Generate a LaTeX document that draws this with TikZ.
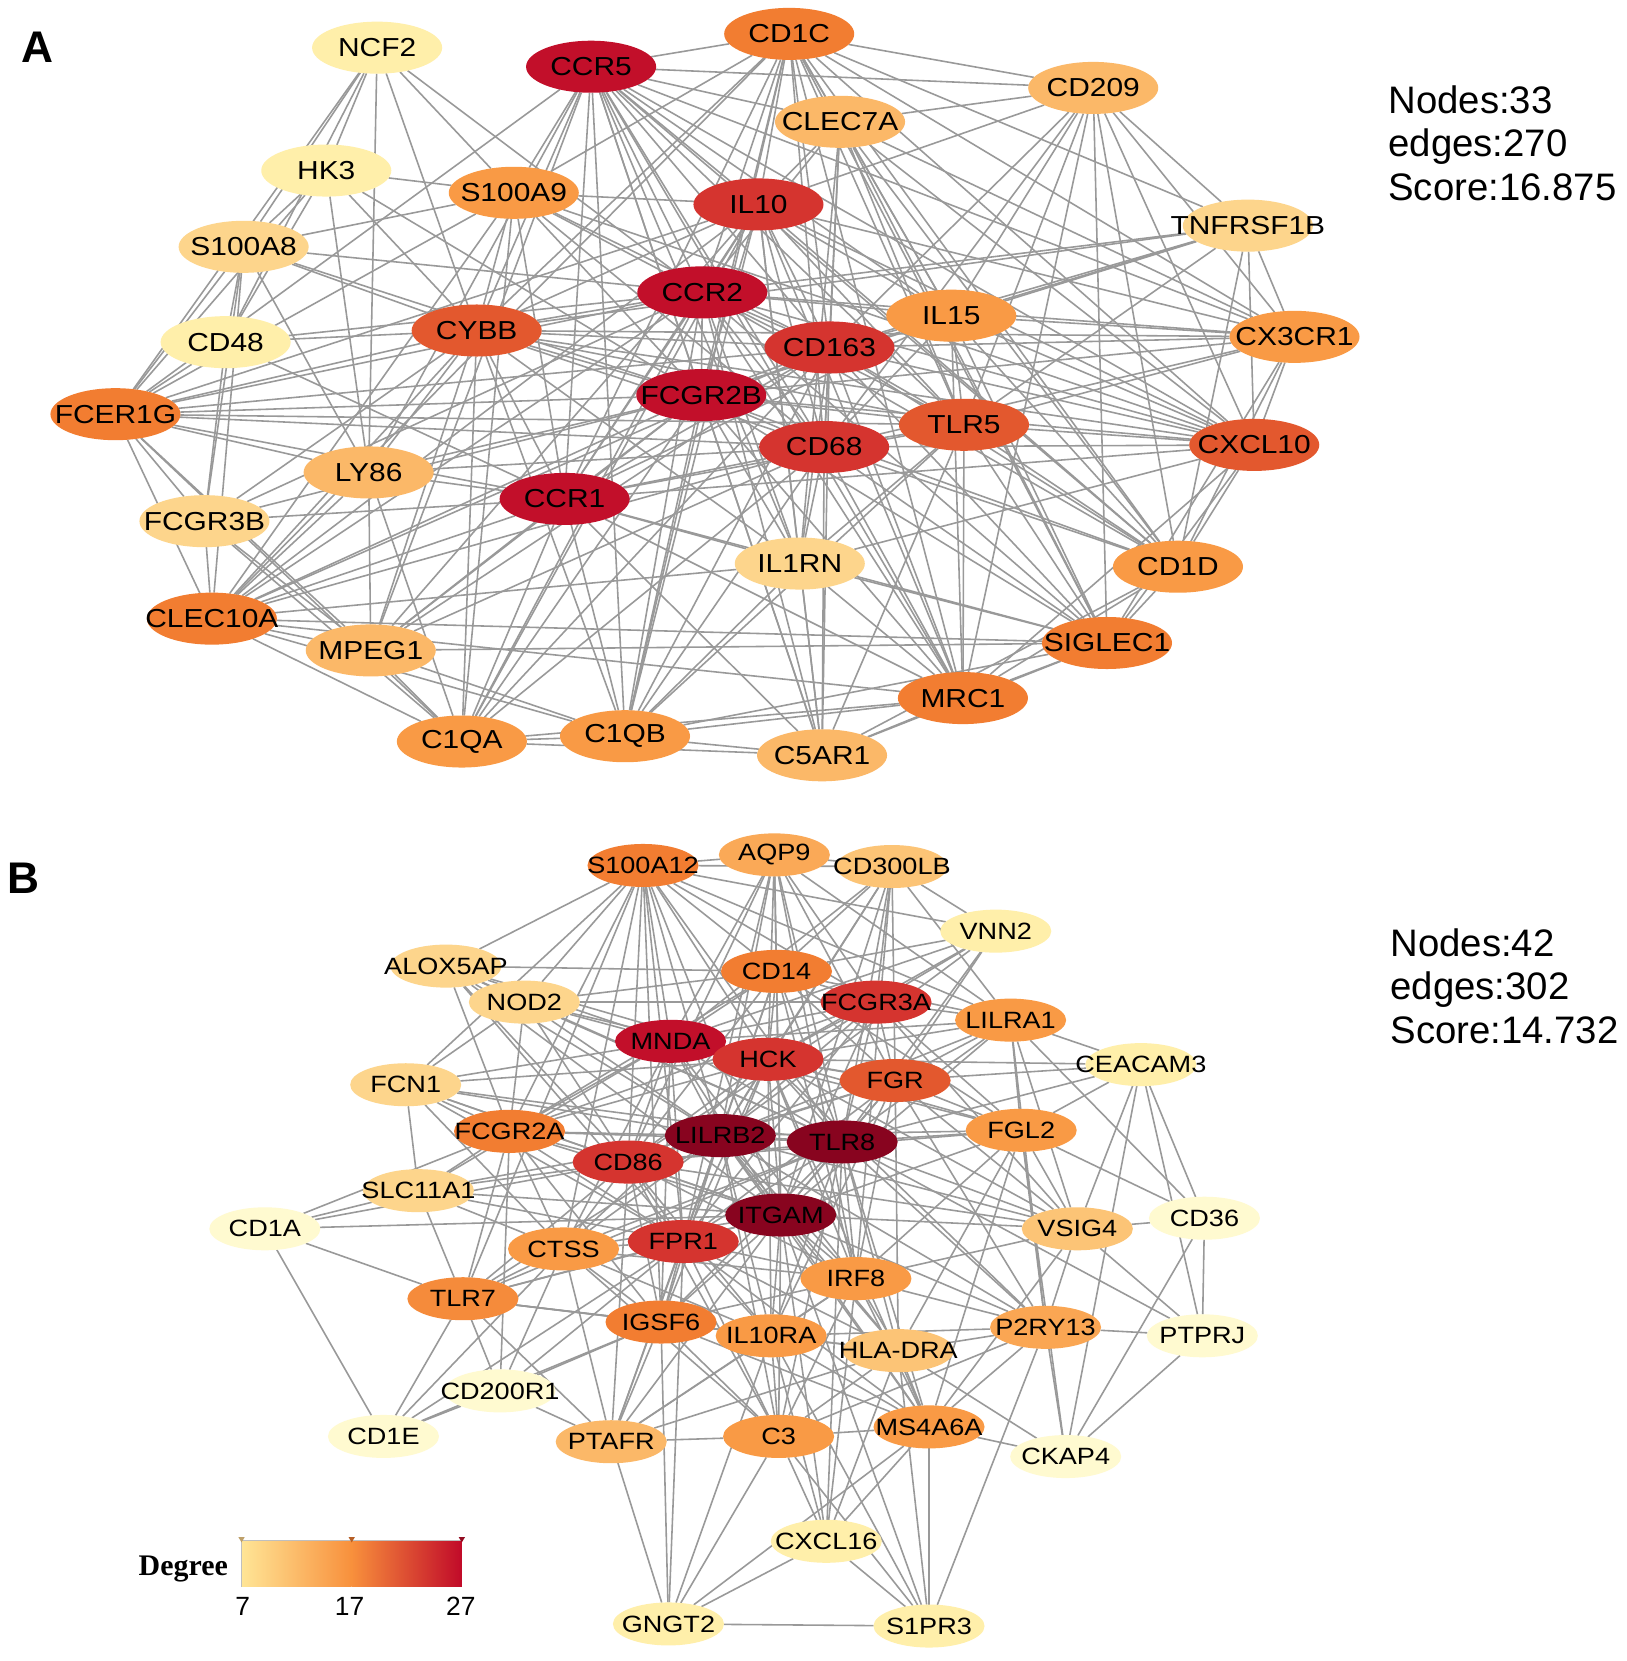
\documentclass[tikz,border=0pt]{standalone}
\usepackage{fontspec}
\setmainfont{Liberation Sans}
\newfontfamily\genefont[FakeStretch=1.15]{Liberation Sans}
\newfontfamily\legendfont{Liberation Serif}
\usetikzlibrary{shapes.geometric,backgrounds}

% degree scale, light to dark
\definecolor{dg1}{HTML}{FFFAD0}
\definecolor{dg2}{HTML}{FFEFAA}
\definecolor{dg3}{HTML}{FDD58C}
\definecolor{dg4}{HTML}{FBB868}
\definecolor{dg5}{HTML}{F99A45}
\definecolor{dg6}{HTML}{F27D31}
\definecolor{dg7}{HTML}{E3582E}
\definecolor{dg8}{HTML}{D5342F}
\definecolor{dg9}{HTML}{C20F2A}
\definecolor{dg10}{HTML}{88041F}
\definecolor{barlo}{HTML}{FFE596}
\definecolor{barmid}{HTML}{F8903C}
\definecolor{barhi}{HTML}{C10A29}
\definecolor{linkgray}{HTML}{999999}

\tikzset{
  geneA/.style={ellipse, draw=none, inner sep=0pt, outer sep=0pt,
    minimum width=1.30cm, minimum height=0.52cm},
  geneB/.style={ellipse, draw=none, inner sep=0pt, outer sep=0pt,
    minimum width=1.11cm, minimum height=0.43cm},
  labA/.style={inner sep=0pt, font=\genefont\fontsize{7.4}{8}\selectfont},
  labB/.style={inner sep=0pt, font=\genefont\fontsize{6.7}{7.5}\selectfont},
  ppi/.style={draw=linkgray, line width=0.45pt},
  stats/.style={align=left, inner sep=0pt, anchor=west,
    font=\fontsize{10.9}{12.35}\selectfont},
  panel/.style={inner sep=0pt, font=\fontsize{12.6}{14}\selectfont\bfseries},
  tick/.style={inner sep=0pt, font=\fontsize{7.5}{8}\selectfont}
}

\begin{document}
\begin{tikzpicture}[x=0.0105928cm, y=-0.0105928cm]
\useasboundingbox (0,0) rectangle (1535,1568);
\begin{pgfonlayer}{background}
\fill[white] (0,0) rectangle (1535,1568);
\end{pgfonlayer}

% panel A
\node[panel] (tagA) at (35,45) {A};
\node[stats] (statsA) at (1310,135) {Nodes:33\\edges:270\\Score:16.875};
\foreach \n/\x/\y/\col in {
  NCF2/356/45/dg2, CCR5/558/63/dg9, CD1C/745/32/dg6, CD209/1032/83/dg4,
  CLEC7A/793/115/dg4, HK3/308/161/dg2, S100A9/485/182/dg5, IL10/716/193/dg8,
  TNFRSF1B/1178/213/dg3, S100A8/230/233/dg3, CCR2/663/276/dg9, IL15/898/298/dg5,
  CX3CR1/1222/318/dg5, CD48/213/323/dg2, CYBB/450/312/dg7, CD163/783/328/dg8,
  FCGR2B/662/373/dg9, FCER1G/109/391/dg6, TLR5/910/401/dg7, CXCL10/1184/420/dg7,
  CD68/778/422/dg8, LY86/348/446/dg4, CCR1/533/471/dg9, FCGR3B/193/492/dg3,
  IL1RN/755/532/dg3, CD1D/1112/535/dg5, CLEC10A/200/584/dg6, MPEG1/350/614/dg4,
  SIGLEC1/1045/607/dg6, MRC1/909/659/dg6, C1QA/436/700/dg5, C1QB/590/695/dg5,
  C5AR1/776/713/dg4}
  \node[geneA, fill=\col, label={[labA]center:\n}] (\n) at (\x,\y) {};

% panel B
\node[panel] (tagB) at (22,829) {B};
\node[stats] (statsB) at (1312,931) {Nodes:42\\edges:302\\Score:14.732};
\foreach \n/\x/\y/\col in {
  S100A12/607/817/dg6, AQP9/731/807/dg4!50!dg5, CD300LB/842/818/dg3!40!dg4,
  VNN2/940/879/dg2, ALOX5AP/421/912/dg3, CD14/733/917/dg6, NOD2/495/946/dg3,
  FCGR3A/827/946/dg8, LILRA1/954/963/dg5, MNDA/633/983/dg9, HCK/725/1000/dg8,
  CEACAM3/1077/1005/dg2, FCN1/383/1024/dg3, FGR/845/1020/dg7,
  FCGR2A/481/1068/dg6, CD86/593/1097/dg8, LILRB2/680/1072/dg10,
  TLR8/795/1078/dg10, FGL2/964/1067/dg5, SLC11A1/395/1124/dg3,
  CD36/1137/1150/dg1, CD1A/250/1160/dg1, VSIG4/1017/1160/dg3!40!dg4,
  CTSS/532/1179/dg5, FPR1/645/1172/dg8, ITGAM/737/1147/dg10,
  IRF8/808/1207/dg5, TLR7/437/1226/dg5!50!dg6, IGSF6/624/1248/dg6,
  IL10RA/728/1261/dg5, P2RY13/987/1253/dg5!60!dg4, PTPRJ/1135/1261/dg1,
  CD200R1/472/1313/dg1, CD1E/362/1356/dg1, PTAFR/577/1361/dg4,
  C3/735/1356/dg5, MS4A6A/877/1347/dg5, CKAP4/1006/1375/dg1,
  CXCL16/780/1455/dg2, GNGT2/631/1533/dg2, S1PR3/877/1535/dg2}
  \node[geneB, fill=\col, label={[labB]center:\n}] (\n) at (\x,\y) {};
\node[geneB, fill=dg3!40!dg4, label={[labB]center:HLA-DRA}] (HLADRA) at (848,1275) {};

% interactions
\begin{pgfonlayer}{background}
\foreach \src/\nbrs in {
  NCF2/{HK3,S100A8,CD48,FCER1G,S100A9,CYBB,LY86,CCR2},
  HK3/{S100A8,CD48,FCER1G,S100A9,CYBB,LY86,FCGR2B},
  S100A8/{CD48,FCER1G,FCGR3B,CLEC10A,LY86,S100A9,CYBB,CCR2,FCGR2B},
  CD48/{FCER1G,FCGR3B,CYBB,CCR1,CCR2},
  FCER1G/{FCGR3B,CLEC10A,MPEG1,LY86,C1QA,CYBB,CCR2,FCGR2B,CD68,CCR1,CD163,IL10,TLR5,CCR5,S100A9},
  FCGR3B/{CLEC10A,MPEG1,C1QA,CYBB,CCR1,FCGR2B,CCR2},
  CLEC10A/{MPEG1,LY86,C1QA,C1QB,CCR1,CYBB,FCGR2B,CCR2,CD68,IL10,CD163,SIGLEC1,MRC1,CD1C,S100A9,IL1RN},
  LY86/{MPEG1,C1QA,CCR1,CYBB,CCR5,FCGR2B,CD68},
  MPEG1/{C1QA,C1QB,CCR1,CYBB,FCGR2B,CD68,SIGLEC1,IL10,CCR5,CD163},
  C1QA/{C1QB,C5AR1,MRC1,CCR1,CYBB,FCGR2B,CD68,CCR2,IL10,CD163,S100A9},
  C1QB/{C5AR1,MRC1,SIGLEC1,CCR1,CYBB,FCGR2B,CD68,IL1RN,CCR2,IL10,CD163,CCR5,CD1C,TLR5},
  C5AR1/{MRC1,SIGLEC1,CD1D,IL1RN,CD68,CCR1,FCGR2B,CCR2,CCR5,IL10,TLR5,CD163},
  MRC1/{SIGLEC1,CD1D,CXCL10,CD68,IL1RN,TLR5,CD163,IL15,CCR2,FCGR2B,CCR1,CD1C,CD209,CCR5,IL10},
  SIGLEC1/{CD1D,CXCL10,CX3CR1,TLR5,CD68,CD163,IL15,IL1RN,CCR2,FCGR2B,CCR1,CD1C,CD209,CLEC7A},
  CD1D/{CXCL10,CX3CR1,TNFRSF1B,CD209,CD1C,TLR5,CD68,CD163,IL15,IL10,CCR2,FCGR2B,CCR5,CLEC7A},
  CXCL10/{CX3CR1,TNFRSF1B,CD209,CD1C,CLEC7A,IL15,TLR5,CD68,CD163,IL10,CCR2,FCGR2B,CCR5,CCR1,CYBB,S100A9,IL1RN},
  CX3CR1/{TNFRSF1B,CD209,CD1C,IL15,TLR5,CD163,CD68,IL10,CCR2,FCGR2B,CCR5,CYBB,CLEC7A},
  TNFRSF1B/{CD209,CD1C,IL15,TLR5,CD163,CYBB,CCR2,FCGR2B},
  CD209/{CD1C,CLEC7A,CCR5,IL10,TLR5,CD68,CD163,IL15},
  CD1C/{CLEC7A,CCR5,S100A9,CYBB,IL10,CCR2,CD163,FCGR2B,CD68,TLR5,IL15,CCR1},
  CLEC7A/{CCR5,IL10,CCR2,CD163,IL15,TLR5,CD68,IL1RN},
  CCR5/{S100A9,CYBB,IL10,CCR2,CD163,IL15,FCGR2B,TLR5,CD68,CCR1,IL1RN},
  S100A9/{CYBB,IL10,CCR2,FCGR2B,CD163,CD68,CCR1},
  CYBB/{IL10,CCR2,FCGR2B,CD163,CCR1,CD68,TLR5,IL1RN},
  IL10/{CCR2,CD163,IL15,FCGR2B,TLR5,CD68,CCR1,IL1RN},
  CCR2/{CD163,IL15,FCGR2B,TLR5,CD68,CCR1,IL1RN},
  CD163/{IL15,FCGR2B,TLR5,CD68,CCR1,IL1RN},
  IL15/{FCGR2B,TLR5,CD68,CCR1},
  FCGR2B/{TLR5,CD68,CCR1,IL1RN},
  TLR5/{CD68,CCR1,IL1RN},
  CD68/{CCR1,IL1RN},
  CCR1/{IL1RN},
  CD1A/{CD1E,SLC11A1,TLR7,FCGR2A,CD86,ITGAM},
  CD1E/{TLR7,CD200R1,CTSS,IGSF6,FPR1},
  CD200R1/{TLR7,FCGR2A,CTSS,IGSF6,FPR1,PTAFR},
  GNGT2/{S1PR3,CXCL16,PTAFR,C3,IGSF6,IL10RA,MS4A6A,FPR1},
  S1PR3/{CXCL16,C3,P2RY13,HLADRA,MS4A6A,IL10RA,ITGAM},
  CXCL16/{C3,MS4A6A,HLADRA,IL10RA,IRF8,ITGAM,TLR8},
  CKAP4/{PTPRJ,CD36,CEACAM3,P2RY13,HLADRA,MS4A6A,FGL2},
  PTPRJ/{CD36,CEACAM3,P2RY13,VSIG4,TLR8},
  CD36/{CEACAM3,FGL2,VSIG4,LILRA1},
  CEACAM3/{LILRA1,FGL2,VSIG4,FGR,TLR8,HCK},
  VNN2/{CD300LB,S100A12,CD14,FCGR3A,HCK,MNDA,LILRB2,TLR8,FGR},
  ALOX5AP/{NOD2,S100A12,CD14,MNDA,HCK,FCGR2A,LILRB2,CD86,TLR8,FPR1,ITGAM},
  NOD2/{S100A12,FCN1,MNDA,HCK,CD14,FCGR3A,LILRB2,FCGR2A,CD86,TLR8},
  FCN1/{S100A12,SLC11A1,FCGR2A,MNDA,HCK,LILRB2,CD86,TLR8,ITGAM,FPR1,CTSS},
  SLC11A1/{FCGR2A,TLR7,CTSS,CD86,LILRB2,FPR1,ITGAM,MNDA},
  TLR7/{CTSS,IGSF6,FCGR2A,CD86,FPR1,ITGAM,LILRB2,IL10RA,PTAFR,HLADRA,S100A12,TLR8},
  PTAFR/{IGSF6,C3,IL10RA,FPR1,ITGAM,CTSS,LILRB2,CD86,HLADRA,IRF8},
  C3/{IL10RA,IGSF6,MS4A6A,HLADRA,IRF8,ITGAM,FPR1,TLR8,LILRB2,CD86,P2RY13,CTSS},
  MS4A6A/{HLADRA,P2RY13,IRF8,ITGAM,IL10RA,TLR8,FGL2,VSIG4,LILRB2,FPR1,HCK,IGSF6},
  P2RY13/{HLADRA,VSIG4,FGL2,IRF8,ITGAM,TLR8,IL10RA,LILRA1,FGR,HCK,LILRB2},
  VSIG4/{FGL2,IRF8,ITGAM,TLR8,LILRA1,FGR,HCK,FCGR3A,LILRB2,CD86},
  HLADRA/{IRF8,IL10RA,ITGAM,TLR8,FGL2,FPR1,LILRB2,FGR},
  FGL2/{LILRA1,FGR,TLR8,ITGAM,IRF8,HCK,FCGR3A,LILRB2,CD14,MNDA,CD86},
  LILRA1/{FCGR3A,FGR,TLR8,HCK,CD14,LILRB2,ITGAM,MNDA,CD300LB,S100A12,AQP9},
  CD300LB/{AQP9,S100A12,CD14,FCGR3A,HCK,MNDA,TLR8,LILRB2,FGR,ITGAM,IRF8},
  AQP9/{S100A12,CD14,FCGR3A,HCK,MNDA,LILRB2,TLR8,ITGAM,FGR,FPR1,CD86,IRF8},
  S100A12/{CD14,MNDA,HCK,FCGR3A,LILRB2,TLR8,ITGAM,FPR1,CD86,FCGR2A,CTSS,IGSF6},
  CD14/{FCGR3A,MNDA,HCK,FGR,LILRB2,TLR8,ITGAM,CD86,FPR1,FCGR2A,IRF8},
  FCGR2A/{CD86,MNDA,LILRB2,CTSS,FPR1,ITGAM,HCK,TLR8,IGSF6,FCGR3A},
  CTSS/{CD86,FPR1,IGSF6,ITGAM,LILRB2,TLR8,IL10RA,MNDA,HCK,IRF8},
  IGSF6/{IL10RA,FPR1,ITGAM,LILRB2,TLR8,CD86,IRF8,HCK,MNDA},
  IL10RA/{IRF8,ITGAM,FPR1,TLR8,LILRB2,CD86,HCK,FGR},
  IRF8/{ITGAM,FPR1,TLR8,LILRB2,HCK,FGR,CD86,MNDA},
  FCGR3A/{HCK,FGR,MNDA,LILRB2,TLR8,ITGAM,FPR1,CD86},
  FGR/{HCK,TLR8,LILRB2,ITGAM,MNDA,FPR1,CD86},
  CD86/{LILRB2,FPR1,ITGAM,MNDA,HCK,TLR8},
  FPR1/{ITGAM,LILRB2,TLR8,HCK,MNDA},
  HCK/{MNDA,LILRB2,TLR8,ITGAM},
  MNDA/{LILRB2,TLR8,ITGAM},
  LILRB2/{TLR8,ITGAM},
  TLR8/{ITGAM}}
{
  \foreach \dst in \nbrs
    \draw[ppi] (\src) -- (\dst);
}
\end{pgfonlayer}

% degree legend
\node[inner sep=0pt, anchor=base, font=\legendfont\bfseries\fontsize{8.5}{10}\selectfont]
  (degree) at (173,1487) {Degree};
\shade[left color=barlo, right color=barmid] (228,1454) rectangle (332,1498);
\shade[left color=barmid, right color=barhi] (332,1454) rectangle (436,1498);
\draw[gray!50, line width=0.3pt] (228,1498) -- (228,1454) -- (436,1454);
\foreach \tx/\tc in {228/dg3, 332/dg6, 436/dg9}
  \fill[\tc!75!black] (\tx-3,1451) -- (\tx+3,1451) -- (\tx,1456) -- cycle;
\node[tick] (t7) at (229,1516) {7};
\node[tick] (t17) at (330,1516) {17};
\node[tick] (t27) at (435,1516) {27};
\end{tikzpicture}
\end{document}
